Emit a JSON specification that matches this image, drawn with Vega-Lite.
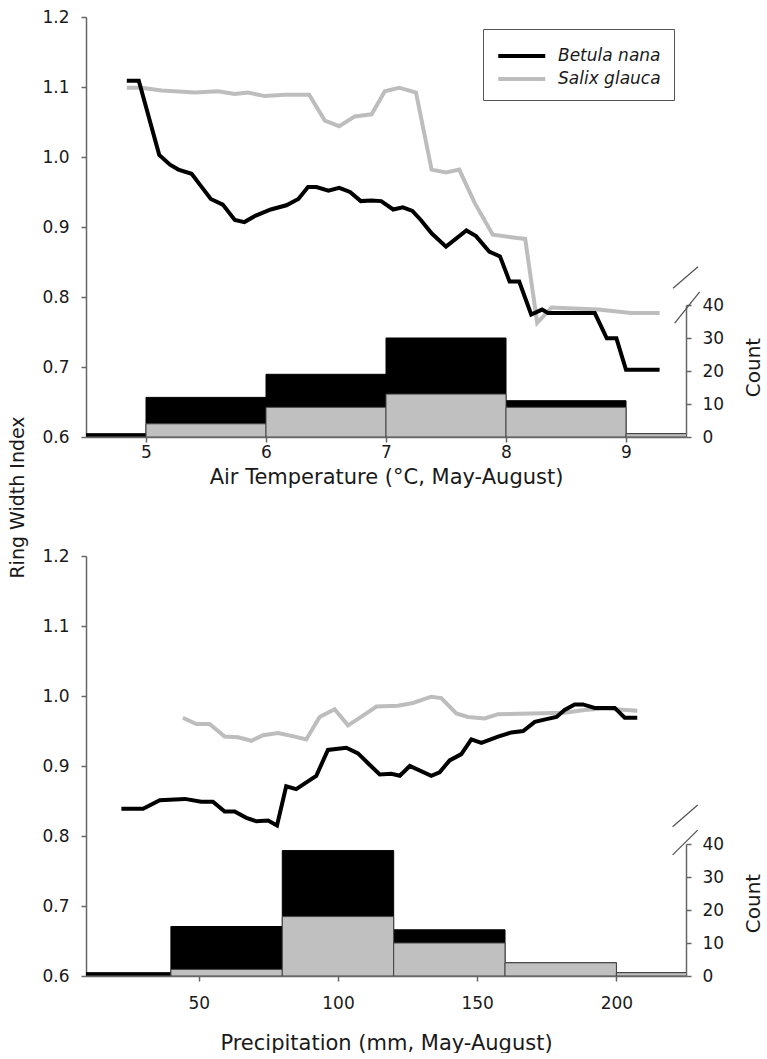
{
  "$schema": "https://vega.github.io/schema/vega-lite/v6.json",
  "padding": {"left": 8, "top": 8, "right": 0, "bottom": 0},
  "background": "white",
  "config": {
    "font": "DejaVu Sans",
    "view": {"stroke": null},
    "axis": {
      "labelFont": "DejaVu Sans", "labelFontSize": 17, "labelColor": "#1a1a1a",
      "titleFont": "DejaVu Sans", "titleFontSize": 20, "titleFontWeight": "normal", "titleColor": "#1a1a1a",
      "domainColor": "#666666", "domainWidth": 1.5, "tickColor": "#666666", "tickWidth": 1.5, "tickSize": 5, "grid": false
    },
    "axisX": {"titleFontSize": 21},
    "axisLeft": {"titleFontSize": 19},
    "legend": {"labelFont": "DejaVu Sans"}
  },
  "datasets": {
    "tempLines": [
      {"t": 4.84, "v": 1.099, "s": "Salix glauca"},
      {"t": 4.96, "v": 1.099, "s": "Salix glauca"},
      {"t": 5.13, "v": 1.095, "s": "Salix glauca"},
      {"t": 5.41, "v": 1.092, "s": "Salix glauca"},
      {"t": 5.60, "v": 1.094, "s": "Salix glauca"},
      {"t": 5.74, "v": 1.090, "s": "Salix glauca"},
      {"t": 5.85, "v": 1.092, "s": "Salix glauca"},
      {"t": 5.99, "v": 1.087, "s": "Salix glauca"},
      {"t": 6.16, "v": 1.089, "s": "Salix glauca"},
      {"t": 6.36, "v": 1.089, "s": "Salix glauca"},
      {"t": 6.49, "v": 1.052, "s": "Salix glauca"},
      {"t": 6.61, "v": 1.044, "s": "Salix glauca"},
      {"t": 6.74, "v": 1.058, "s": "Salix glauca"},
      {"t": 6.88, "v": 1.061, "s": "Salix glauca"},
      {"t": 6.99, "v": 1.094, "s": "Salix glauca"},
      {"t": 7.11, "v": 1.099, "s": "Salix glauca"},
      {"t": 7.25, "v": 1.092, "s": "Salix glauca"},
      {"t": 7.38, "v": 0.982, "s": "Salix glauca"},
      {"t": 7.50, "v": 0.978, "s": "Salix glauca"},
      {"t": 7.61, "v": 0.982, "s": "Salix glauca"},
      {"t": 7.74, "v": 0.934, "s": "Salix glauca"},
      {"t": 7.89, "v": 0.889, "s": "Salix glauca"},
      {"t": 8.06, "v": 0.885, "s": "Salix glauca"},
      {"t": 8.16, "v": 0.883, "s": "Salix glauca"},
      {"t": 8.26, "v": 0.763, "s": "Salix glauca"},
      {"t": 8.38, "v": 0.785, "s": "Salix glauca"},
      {"t": 8.77, "v": 0.782, "s": "Salix glauca"},
      {"t": 9.04, "v": 0.777, "s": "Salix glauca"},
      {"t": 9.28, "v": 0.777, "s": "Salix glauca"},
      {"t": 4.84, "v": 1.109, "s": "Betula nana"},
      {"t": 4.94, "v": 1.109, "s": "Betula nana"},
      {"t": 5.11, "v": 1.003, "s": "Betula nana"},
      {"t": 5.20, "v": 0.989, "s": "Betula nana"},
      {"t": 5.27, "v": 0.982, "s": "Betula nana"},
      {"t": 5.38, "v": 0.976, "s": "Betula nana"},
      {"t": 5.46, "v": 0.958, "s": "Betula nana"},
      {"t": 5.54, "v": 0.940, "s": "Betula nana"},
      {"t": 5.64, "v": 0.932, "s": "Betula nana"},
      {"t": 5.74, "v": 0.910, "s": "Betula nana"},
      {"t": 5.82, "v": 0.907, "s": "Betula nana"},
      {"t": 5.91, "v": 0.916, "s": "Betula nana"},
      {"t": 6.04, "v": 0.925, "s": "Betula nana"},
      {"t": 6.17, "v": 0.931, "s": "Betula nana"},
      {"t": 6.27, "v": 0.940, "s": "Betula nana"},
      {"t": 6.35, "v": 0.957, "s": "Betula nana"},
      {"t": 6.42, "v": 0.957, "s": "Betula nana"},
      {"t": 6.52, "v": 0.952, "s": "Betula nana"},
      {"t": 6.61, "v": 0.956, "s": "Betula nana"},
      {"t": 6.70, "v": 0.950, "s": "Betula nana"},
      {"t": 6.79, "v": 0.937, "s": "Betula nana"},
      {"t": 6.88, "v": 0.938, "s": "Betula nana"},
      {"t": 6.96, "v": 0.937, "s": "Betula nana"},
      {"t": 7.06, "v": 0.925, "s": "Betula nana"},
      {"t": 7.14, "v": 0.928, "s": "Betula nana"},
      {"t": 7.22, "v": 0.923, "s": "Betula nana"},
      {"t": 7.29, "v": 0.910, "s": "Betula nana"},
      {"t": 7.38, "v": 0.891, "s": "Betula nana"},
      {"t": 7.50, "v": 0.872, "s": "Betula nana"},
      {"t": 7.67, "v": 0.895, "s": "Betula nana"},
      {"t": 7.75, "v": 0.887, "s": "Betula nana"},
      {"t": 7.86, "v": 0.865, "s": "Betula nana"},
      {"t": 7.95, "v": 0.858, "s": "Betula nana"},
      {"t": 8.03, "v": 0.822, "s": "Betula nana"},
      {"t": 8.11, "v": 0.822, "s": "Betula nana"},
      {"t": 8.21, "v": 0.775, "s": "Betula nana"},
      {"t": 8.30, "v": 0.782, "s": "Betula nana"},
      {"t": 8.35, "v": 0.777, "s": "Betula nana"},
      {"t": 8.74, "v": 0.777, "s": "Betula nana"},
      {"t": 8.84, "v": 0.741, "s": "Betula nana"},
      {"t": 8.92, "v": 0.741, "s": "Betula nana"},
      {"t": 9.00, "v": 0.696, "s": "Betula nana"},
      {"t": 9.28, "v": 0.696, "s": "Betula nana"}
    ],
    "precLines": [
      {"p": 44.3, "v": 0.969, "s": "Salix glauca"},
      {"p": 49.1, "v": 0.960, "s": "Salix glauca"},
      {"p": 53.9, "v": 0.960, "s": "Salix glauca"},
      {"p": 59.3, "v": 0.942, "s": "Salix glauca"},
      {"p": 64.1, "v": 0.941, "s": "Salix glauca"},
      {"p": 68.9, "v": 0.936, "s": "Salix glauca"},
      {"p": 73.1, "v": 0.944, "s": "Salix glauca"},
      {"p": 78.5, "v": 0.947, "s": "Salix glauca"},
      {"p": 84.5, "v": 0.942, "s": "Salix glauca"},
      {"p": 88.6, "v": 0.938, "s": "Salix glauca"},
      {"p": 93.4, "v": 0.970, "s": "Salix glauca"},
      {"p": 98.8, "v": 0.981, "s": "Salix glauca"},
      {"p": 103.6, "v": 0.958, "s": "Salix glauca"},
      {"p": 109.0, "v": 0.972, "s": "Salix glauca"},
      {"p": 113.8, "v": 0.985, "s": "Salix glauca"},
      {"p": 121.6, "v": 0.986, "s": "Salix glauca"},
      {"p": 126.9, "v": 0.990, "s": "Salix glauca"},
      {"p": 133.5, "v": 0.999, "s": "Salix glauca"},
      {"p": 137.1, "v": 0.997, "s": "Salix glauca"},
      {"p": 142.5, "v": 0.975, "s": "Salix glauca"},
      {"p": 146.7, "v": 0.970, "s": "Salix glauca"},
      {"p": 152.7, "v": 0.968, "s": "Salix glauca"},
      {"p": 157.5, "v": 0.974, "s": "Salix glauca"},
      {"p": 169.5, "v": 0.975, "s": "Salix glauca"},
      {"p": 181.4, "v": 0.976, "s": "Salix glauca"},
      {"p": 188.6, "v": 0.980, "s": "Salix glauca"},
      {"p": 195.8, "v": 0.982, "s": "Salix glauca"},
      {"p": 207.5, "v": 0.979, "s": "Salix glauca"},
      {"p": 22.2, "v": 0.839, "s": "Betula nana"},
      {"p": 30.0, "v": 0.839, "s": "Betula nana"},
      {"p": 36.0, "v": 0.851, "s": "Betula nana"},
      {"p": 45.0, "v": 0.853, "s": "Betula nana"},
      {"p": 50.9, "v": 0.849, "s": "Betula nana"},
      {"p": 55.1, "v": 0.849, "s": "Betula nana"},
      {"p": 59.3, "v": 0.835, "s": "Betula nana"},
      {"p": 62.9, "v": 0.835, "s": "Betula nana"},
      {"p": 67.1, "v": 0.826, "s": "Betula nana"},
      {"p": 70.7, "v": 0.821, "s": "Betula nana"},
      {"p": 74.9, "v": 0.822, "s": "Betula nana"},
      {"p": 78.1, "v": 0.815, "s": "Betula nana"},
      {"p": 81.4, "v": 0.871, "s": "Betula nana"},
      {"p": 85.0, "v": 0.867, "s": "Betula nana"},
      {"p": 89.2, "v": 0.878, "s": "Betula nana"},
      {"p": 92.2, "v": 0.886, "s": "Betula nana"},
      {"p": 96.4, "v": 0.923, "s": "Betula nana"},
      {"p": 103.0, "v": 0.926, "s": "Betula nana"},
      {"p": 107.2, "v": 0.918, "s": "Betula nana"},
      {"p": 110.8, "v": 0.904, "s": "Betula nana"},
      {"p": 115.0, "v": 0.888, "s": "Betula nana"},
      {"p": 119.2, "v": 0.889, "s": "Betula nana"},
      {"p": 122.2, "v": 0.886, "s": "Betula nana"},
      {"p": 125.8, "v": 0.900, "s": "Betula nana"},
      {"p": 133.5, "v": 0.886, "s": "Betula nana"},
      {"p": 136.5, "v": 0.891, "s": "Betula nana"},
      {"p": 140.1, "v": 0.908, "s": "Betula nana"},
      {"p": 144.3, "v": 0.917, "s": "Betula nana"},
      {"p": 147.9, "v": 0.938, "s": "Betula nana"},
      {"p": 151.5, "v": 0.933, "s": "Betula nana"},
      {"p": 157.5, "v": 0.942, "s": "Betula nana"},
      {"p": 162.3, "v": 0.948, "s": "Betula nana"},
      {"p": 166.5, "v": 0.950, "s": "Betula nana"},
      {"p": 170.7, "v": 0.963, "s": "Betula nana"},
      {"p": 174.9, "v": 0.967, "s": "Betula nana"},
      {"p": 178.5, "v": 0.970, "s": "Betula nana"},
      {"p": 181.4, "v": 0.980, "s": "Betula nana"},
      {"p": 185.0, "v": 0.988, "s": "Betula nana"},
      {"p": 188.0, "v": 0.988, "s": "Betula nana"},
      {"p": 192.2, "v": 0.983, "s": "Betula nana"},
      {"p": 199.4, "v": 0.983, "s": "Betula nana"},
      {"p": 203.0, "v": 0.969, "s": "Betula nana"},
      {"p": 207.5, "v": 0.969, "s": "Betula nana"}
    ],
    "tempBars": [
      {"lo": 4, "hi": 5, "total": 1, "salix": 0},
      {"lo": 5, "hi": 6, "total": 12, "salix": 4},
      {"lo": 6, "hi": 7, "total": 19, "salix": 9},
      {"lo": 7, "hi": 8, "total": 30, "salix": 13},
      {"lo": 8, "hi": 9, "total": 11, "salix": 9},
      {"lo": 9, "hi": 10, "total": 1, "salix": 1}
    ],
    "precBars": [
      {"lo": 0, "hi": 40, "total": 1, "salix": 0},
      {"lo": 40, "hi": 80, "total": 15, "salix": 2},
      {"lo": 80, "hi": 120, "total": 38, "salix": 18},
      {"lo": 120, "hi": 160, "total": 14, "salix": 10},
      {"lo": 160, "hi": 200, "total": 4, "salix": 4},
      {"lo": 200, "hi": 240, "total": 1, "salix": 1}
    ],
    "tempBreaks": [
      {"a": 9.392, "b": 9.600, "c1": 45.1, "c2": 51.6},
      {"a": 9.406, "b": 9.614, "c1": 34.5, "c2": 44.0}
    ],
    "precBreaks": [
      {"a": 220.2, "b": 229.2, "c1": 45.2, "c2": 51.8},
      {"a": 220.2, "b": 229.2, "c1": 36.7, "c2": 44.2}
    ]
  },
  "vconcat": [
    {
      "width": 600,
      "height": 420,
      "layer": [
        {
          "layer": [
            {
              "data": {"name": "tempLines"},
              "mark": {"type": "line", "strokeWidth": 4},
              "encoding": {
                "x": {"field": "t", "type": "quantitative", "scale": {"domain": [4.5, 9.5], "nice": false},
                      "axis": {"values": [5, 6, 7, 8, 9], "title": "Air Temperature (°C, May-August)", "labelPadding": 2, "titlePadding": 6}},
                "y": {"field": "v", "type": "quantitative", "scale": {"domain": [0.6, 1.2], "nice": false, "zero": false},
                      "axis": {"values": [0.6, 0.7, 0.8, 0.9, 1.0, 1.1, 1.2], "format": ".1f", "title": "Ring Width Index", "labelPadding": 12, "titlePadding": 14, "titleY": 480}},
                "color": {"field": "s", "type": "nominal",
                          "scale": {"domain": ["Betula nana", "Salix glauca"], "range": ["#000000", "#bdbdbd"]},
                          "legend": {"title": null, "orient": "top-right", "offset": 12, "symbolType": "M-1,0H3", "symbolStrokeWidth": 4, "symbolSize": 552,
                                     "labelFontStyle": "italic", "labelFontSize": 17, "labelColor": "#1a1a1a", "labelOffset": 34,
                                     "strokeColor": "#555555", "fillColor": "white", "padding": 13, "rowPadding": 1}},
                "order": {"field": "s", "type": "nominal", "sort": "descending"}
              }
            },
            {
              "mark": {"type": "rule", "color": "#666666", "strokeWidth": 1.5},
              "encoding": {
                "x": {"datum": 4.5, "type": "quantitative", "scale": {"domain": [4.5, 9.5], "nice": false},
                      "axis": {"values": [5, 6, 7, 8, 9], "title": "Air Temperature (°C, May-August)", "labelPadding": 2, "titlePadding": 6}},
                "x2": {"datum": 9.5},
                "y": {"datum": 1.2, "type": "quantitative", "scale": {"domain": [0.6, 1.2], "nice": false, "zero": false},
                      "axis": {"values": [0.6, 0.7, 0.8, 0.9, 1.0, 1.1, 1.2], "format": ".1f", "title": "Ring Width Index", "labelPadding": 12, "titlePadding": 14, "titleY": 480}}
              }
            },
            {
              "mark": {"type": "rule", "color": "#666666", "strokeWidth": 1.5},
              "encoding": {
                "x": {"datum": 9.5, "type": "quantitative", "scale": {"domain": [4.5, 9.5], "nice": false},
                      "axis": {"values": [5, 6, 7, 8, 9], "title": "Air Temperature (°C, May-August)", "labelPadding": 2, "titlePadding": 6}},
                "y": {"datum": 0.84, "type": "quantitative", "scale": {"domain": [0.6, 1.2], "nice": false, "zero": false},
                      "axis": {"values": [0.6, 0.7, 0.8, 0.9, 1.0, 1.1, 1.2], "format": ".1f", "title": "Ring Width Index", "labelPadding": 12, "titlePadding": 14, "titleY": 480}},
                "y2": {"datum": 1.2}
              }
            }
          ]
        },
        {
          "layer": [
            {
              "data": {"name": "tempBars"},
              "mark": {"type": "bar", "color": "#000000", "stroke": "#000000", "strokeWidth": 1, "clip": true},
              "encoding": {
                "x": {"field": "lo", "type": "quantitative", "scale": {"domain": [4.5, 9.5], "nice": false},
                      "axis": {"values": [5, 6, 7, 8, 9], "title": "Air Temperature (°C, May-August)", "labelPadding": 2, "titlePadding": 6}},
                "x2": {"field": "hi"},
                "y": {"field": "total", "type": "quantitative", "scale": {"domain": [0, 40], "range": [420, 288], "nice": false},
                      "axis": {"orient": "right", "values": [0, 10, 20, 30, 40], "title": "Count", "labelPadding": 11, "titleAngle": 270, "titleBaseline": "top", "titlePadding": 20, "titleY": 350}},
                "y2": {"datum": 0}
              }
            },
            {
              "data": {"name": "tempBars"},
              "mark": {"type": "bar", "color": "#c0c0c0", "stroke": "#444444", "strokeWidth": 1, "clip": true},
              "encoding": {
                "x": {"field": "lo", "type": "quantitative", "scale": {"domain": [4.5, 9.5], "nice": false},
                      "axis": {"values": [5, 6, 7, 8, 9], "title": "Air Temperature (°C, May-August)", "labelPadding": 2, "titlePadding": 6}},
                "x2": {"field": "hi"},
                "y": {"field": "salix", "type": "quantitative", "scale": {"domain": [0, 40], "range": [420, 288], "nice": false},
                      "axis": {"orient": "right", "values": [0, 10, 20, 30, 40], "title": "Count", "labelPadding": 11, "titleAngle": 270, "titleBaseline": "top", "titlePadding": 20, "titleY": 350}},
                "y2": {"datum": 0}
              }
            },
            {
              "data": {"name": "tempBreaks"},
              "mark": {"type": "rule", "color": "#555555", "strokeWidth": 1.3, "clip": false},
              "encoding": {
                "x": {"field": "a", "type": "quantitative", "scale": {"domain": [4.5, 9.5], "nice": false},
                      "axis": {"values": [5, 6, 7, 8, 9], "title": "Air Temperature (°C, May-August)", "labelPadding": 2, "titlePadding": 6}},
                "x2": {"field": "b"},
                "y": {"field": "c1", "type": "quantitative", "scale": {"domain": [0, 40], "range": [420, 288], "nice": false},
                      "axis": {"orient": "right", "values": [0, 10, 20, 30, 40], "title": "Count", "labelPadding": 11, "titleAngle": 270, "titleBaseline": "top", "titlePadding": 20, "titleY": 350}},
                "y2": {"field": "c2"}
              }
            }
          ]
        }
      ],
      "resolve": {"scale": {"y": "independent"}, "axis": {"y": "independent"}}
    },
    {
      "width": 600,
      "height": 420,
      "layer": [
        {
          "layer": [
            {
              "data": {"name": "precLines"},
              "mark": {"type": "line", "strokeWidth": 4},
              "encoding": {
                "x": {"field": "p", "type": "quantitative", "scale": {"domain": [9.5, 225], "nice": false},
                      "axis": {"values": [50, 100, 150, 200], "title": "Precipitation (mm, May-August)", "labelPadding": 14, "titlePadding": 21}},
                "y": {"field": "v", "type": "quantitative", "scale": {"domain": [0.6, 1.2], "nice": false, "zero": false},
                      "axis": {"values": [0.6, 0.7, 0.8, 0.9, 1.0, 1.1, 1.2], "format": ".1f", "title": null, "labelPadding": 12}},
                "color": {"field": "s", "type": "nominal",
                          "scale": {"domain": ["Betula nana", "Salix glauca"], "range": ["#000000", "#bdbdbd"]},
                          "legend": null},
                "order": {"field": "s", "type": "nominal", "sort": "descending"}
              }
            },
            {
              "mark": {"type": "rule", "color": "#666666", "strokeWidth": 1.5},
              "encoding": {
                "x": {"datum": 9.5, "type": "quantitative", "scale": {"domain": [9.5, 225], "nice": false},
                      "axis": {"values": [50, 100, 150, 200], "title": "Precipitation (mm, May-August)", "labelPadding": 14, "titlePadding": 21}},
                "x2": {"datum": 225},
                "y": {"datum": 1.2, "type": "quantitative", "scale": {"domain": [0.6, 1.2], "nice": false, "zero": false},
                      "axis": {"values": [0.6, 0.7, 0.8, 0.9, 1.0, 1.1, 1.2], "format": ".1f", "title": null, "labelPadding": 12}}
              }
            },
            {
              "mark": {"type": "rule", "color": "#666666", "strokeWidth": 1.5},
              "encoding": {
                "x": {"datum": 225, "type": "quantitative", "scale": {"domain": [9.5, 225], "nice": false},
                      "axis": {"values": [50, 100, 150, 200], "title": "Precipitation (mm, May-August)", "labelPadding": 14, "titlePadding": 21}},
                "y": {"datum": 0.835, "type": "quantitative", "scale": {"domain": [0.6, 1.2], "nice": false, "zero": false},
                      "axis": {"values": [0.6, 0.7, 0.8, 0.9, 1.0, 1.1, 1.2], "format": ".1f", "title": null, "labelPadding": 12}},
                "y2": {"datum": 1.2}
              }
            }
          ]
        },
        {
          "layer": [
            {
              "data": {"name": "precBars"},
              "mark": {"type": "bar", "color": "#000000", "stroke": "#000000", "strokeWidth": 1, "clip": true},
              "encoding": {
                "x": {"field": "lo", "type": "quantitative", "scale": {"domain": [9.5, 225], "nice": false},
                      "axis": {"values": [50, 100, 150, 200], "title": "Precipitation (mm, May-August)", "labelPadding": 14, "titlePadding": 21}},
                "x2": {"field": "hi"},
                "y": {"field": "total", "type": "quantitative", "scale": {"domain": [0, 40], "range": [420, 288], "nice": false},
                      "axis": {"orient": "right", "values": [0, 10, 20, 30, 40], "title": "Count", "labelPadding": 11, "titleAngle": 270, "titleBaseline": "top", "titlePadding": 20, "titleY": 347}},
                "y2": {"datum": 0}
              }
            },
            {
              "data": {"name": "precBars"},
              "mark": {"type": "bar", "color": "#c0c0c0", "stroke": "#444444", "strokeWidth": 1, "clip": true},
              "encoding": {
                "x": {"field": "lo", "type": "quantitative", "scale": {"domain": [9.5, 225], "nice": false},
                      "axis": {"values": [50, 100, 150, 200], "title": "Precipitation (mm, May-August)", "labelPadding": 14, "titlePadding": 21}},
                "x2": {"field": "hi"},
                "y": {"field": "salix", "type": "quantitative", "scale": {"domain": [0, 40], "range": [420, 288], "nice": false},
                      "axis": {"orient": "right", "values": [0, 10, 20, 30, 40], "title": "Count", "labelPadding": 11, "titleAngle": 270, "titleBaseline": "top", "titlePadding": 20, "titleY": 347}},
                "y2": {"datum": 0}
              }
            },
            {
              "data": {"name": "precBreaks"},
              "mark": {"type": "rule", "color": "#555555", "strokeWidth": 1.3, "clip": false},
              "encoding": {
                "x": {"field": "a", "type": "quantitative", "scale": {"domain": [9.5, 225], "nice": false},
                      "axis": {"values": [50, 100, 150, 200], "title": "Precipitation (mm, May-August)", "labelPadding": 14, "titlePadding": 21}},
                "x2": {"field": "b"},
                "y": {"field": "c1", "type": "quantitative", "scale": {"domain": [0, 40], "range": [420, 288], "nice": false},
                      "axis": {"orient": "right", "values": [0, 10, 20, 30, 40], "title": "Count", "labelPadding": 11, "titleAngle": 270, "titleBaseline": "top", "titlePadding": 20, "titleY": 347}},
                "y2": {"field": "c2"}
              }
            }
          ]
        }
      ],
      "resolve": {"scale": {"y": "independent"}, "axis": {"y": "independent"}}
    }
  ],
  "spacing": 119,
  "bounds": "flush",
  "resolve": {"scale": {"color": "independent"}, "legend": {"color": "independent"}}
}
